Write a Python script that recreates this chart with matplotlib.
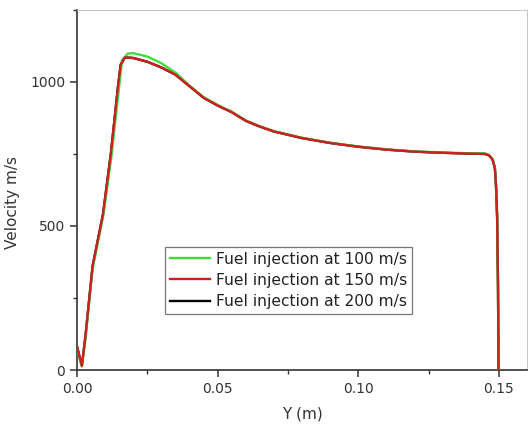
import matplotlib
matplotlib.use('Agg')
import matplotlib.pyplot as plt
from matplotlib.ticker import MultipleLocator

# Y (m) and velocity (m/s)
y_red = [0.0, 0.0017, 0.003, 0.0055, 0.0092, 0.012, 0.0145, 0.0155, 0.017,
         0.02, 0.025, 0.03, 0.035, 0.04, 0.045, 0.05, 0.055, 0.06, 0.065,
         0.07, 0.08, 0.09, 0.10, 0.11, 0.12, 0.13, 0.14, 0.145, 0.1465,
         0.1478, 0.1486, 0.149, 0.1494, 0.1497, 0.1499]
v_red = [80, 15, 120, 360, 540, 750, 980, 1060, 1085,
         1083, 1070, 1050, 1025, 985, 945, 918, 895, 865, 845,
         828, 805, 788, 775, 765, 758, 754, 751, 750, 745,
         730, 700, 640, 530, 300, 0]

y_green = [0.0, 0.0017, 0.003, 0.0055, 0.0093, 0.0122, 0.0148, 0.016, 0.018,
           0.02, 0.025, 0.03, 0.035, 0.04, 0.045, 0.05, 0.055, 0.06, 0.065,
           0.07, 0.08, 0.09, 0.10, 0.11, 0.12, 0.13, 0.14, 0.145, 0.1465,
           0.1478, 0.1486, 0.149, 0.1494, 0.1497, 0.1499]
v_green = [72, 12, 110, 350, 535, 740, 970, 1075, 1098,
           1100, 1088, 1065, 1032, 987, 947, 920, 896, 866, 846,
           829, 806, 789, 776, 766, 759, 755, 752, 752, 747,
           732, 702, 642, 532, 300, 0]

y_black = y_red
v_black = v_red

labels = ['Fuel injection at 100 m/s', 'Fuel injection at 150 m/s',
          'Fuel injection at 200 m/s']

fig = plt.figure(figsize=(5.28, 4.30), dpi=100)
ax = fig.add_axes([0.146, 0.1395, 0.852, 0.8375])

hb, = ax.plot(y_black, v_black, color='black', lw=1.7, zorder=2)
hg, = ax.plot(y_green, v_green, color='#3ddc3d', lw=1.7, zorder=3)
hr, = ax.plot(y_red, v_red, color='#cc2020', lw=1.7, zorder=4)

ax.set_xlim(0, 0.16)
ax.set_ylim(0, 1250)
ax.xaxis.set_major_locator(MultipleLocator(0.05))
ax.xaxis.set_minor_locator(MultipleLocator(0.025))
ax.yaxis.set_major_locator(MultipleLocator(500))
ax.yaxis.set_minor_locator(MultipleLocator(250))
ax.xaxis.set_major_formatter(matplotlib.ticker.FormatStrFormatter('%.2f'))

for s in ['top', 'right']:
    ax.spines[s].set_color('#c8c8c8')
for s in ['left', 'bottom']:
    ax.spines[s].set_color('#333333')
    ax.spines[s].set_linewidth(1.2)

ax.tick_params(which='major', direction='out', length=5, width=1.1,
               colors='#333333', labelsize=10, top=False, right=False)
ax.tick_params(which='minor', direction='out', length=3, width=1.0,
               colors='#333333', top=False, right=False)

ax.set_xlabel('Y (m)', fontsize=11, color='#333333', labelpad=8)
ax.set_ylabel('Velocity m/s', fontsize=11, color='#333333', labelpad=4)
ax.yaxis.set_label_coords(-0.128, 0.465)

leg = ax.legend([hg, hr, hb], labels, loc='upper left',
                bbox_to_anchor=(0.196, 0.342), borderaxespad=0,
                fontsize=11.2, frameon=True, fancybox=False, borderpad=0.3,
                labelspacing=0.4, handlelength=2.6, handletextpad=0.35)
leg.get_frame().set_edgecolor('#555555')
leg.get_frame().set_linewidth(0.9)
for t in leg.get_texts():
    t.set_color('#222222')

fig.savefig('out.png', dpi=100)
